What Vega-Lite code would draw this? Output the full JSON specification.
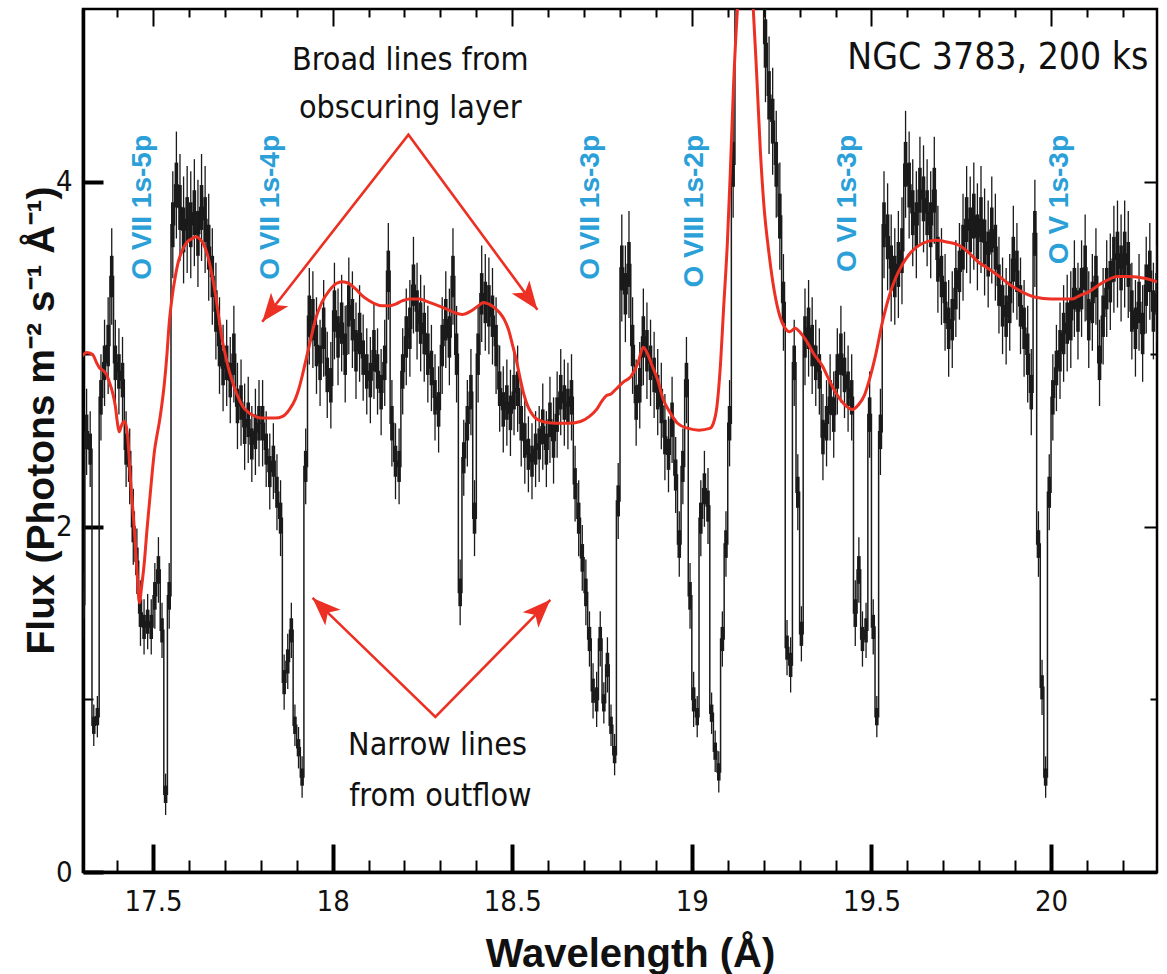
{
"$schema":"https://vega.github.io/schema/vega-lite/v6.json",
"width":1074,"height":863,
"autosize":{"type":"none"},
"padding":{"left":83,"top":9,"right":10,"bottom":102},
"background":"white",
"config":{"view":{"stroke":"#000","strokeWidth":2.5}},
"datasets":{
"spec":[
{"x":17.305,"y":1.55,"e":0.19,"t":0.08},{"x":17.315,"y":2.55,"e":0.25,"t":0.10},{"x":17.325,"y":2.45,"e":0.22,"t":0.09},{"x":17.335,"y":0.85,"e":0.12,"t":0.05},{"x":17.345,"y":0.9,"e":0.12,"t":0.05},{"x":17.355,"y":2.75,"e":0.25,"t":0.10},{"x":17.365,"y":2.95,"e":0.25,"t":0.10},{"x":17.375,"y":3.05,"e":0.28,"t":0.12},{"x":17.385,"y":3.45,"e":0.28,"t":0.12},{"x":17.395,"y":2.95,"e":0.25,"t":0.10},
{"x":17.405,"y":2.9,"e":0.25,"t":0.10},{"x":17.415,"y":2.85,"e":0.25,"t":0.10},{"x":17.425,"y":2.45,"e":0.22,"t":0.09},{"x":17.435,"y":2.35,"e":0.22,"t":0.09},{"x":17.445,"y":2.0,"e":0.22,"t":0.09},{"x":17.455,"y":1.8,"e":0.19,"t":0.08},{"x":17.465,"y":1.5,"e":0.19,"t":0.08},{"x":17.475,"y":1.42,"e":0.16,"t":0.07},{"x":17.485,"y":1.45,"e":0.16,"t":0.07},{"x":17.495,"y":1.42,"e":0.16,"t":0.07},
{"x":17.505,"y":1.6,"e":0.19,"t":0.08},{"x":17.515,"y":1.75,"e":0.19,"t":0.08},{"x":17.525,"y":1.4,"e":0.16,"t":0.07},{"x":17.535,"y":0.45,"e":0.12,"t":0.05},{"x":17.545,"y":1.6,"e":0.19,"t":0.08},{"x":17.555,"y":3.75,"e":0.31,"t":0.13},{"x":17.565,"y":3.98,"e":0.31,"t":0.13},{"x":17.575,"y":3.85,"e":0.31,"t":0.13},{"x":17.585,"y":3.72,"e":0.31,"t":0.13},{"x":17.595,"y":3.78,"e":0.31,"t":0.13},
{"x":17.605,"y":3.75,"e":0.31,"t":0.13},{"x":17.615,"y":3.82,"e":0.31,"t":0.13},{"x":17.625,"y":3.7,"e":0.31,"t":0.13},{"x":17.635,"y":3.85,"e":0.31,"t":0.13},{"x":17.645,"y":3.78,"e":0.31,"t":0.13},{"x":17.655,"y":3.62,"e":0.31,"t":0.13},{"x":17.665,"y":3.45,"e":0.28,"t":0.12},{"x":17.675,"y":3.25,"e":0.28,"t":0.12},{"x":17.685,"y":3.05,"e":0.28,"t":0.12},{"x":17.695,"y":2.92,"e":0.25,"t":0.10},
{"x":17.705,"y":2.95,"e":0.25,"t":0.10},{"x":17.715,"y":2.85,"e":0.25,"t":0.10},{"x":17.725,"y":3.0,"e":0.28,"t":0.12},{"x":17.735,"y":2.7,"e":0.25,"t":0.10},{"x":17.745,"y":2.72,"e":0.25,"t":0.10},{"x":17.755,"y":2.58,"e":0.25,"t":0.10},{"x":17.765,"y":2.62,"e":0.25,"t":0.10},{"x":17.775,"y":2.48,"e":0.22,"t":0.09},{"x":17.785,"y":2.55,"e":0.25,"t":0.10},{"x":17.795,"y":2.6,"e":0.25,"t":0.10},
{"x":17.805,"y":2.6,"e":0.25,"t":0.10},{"x":17.815,"y":2.45,"e":0.22,"t":0.09},{"x":17.825,"y":2.32,"e":0.22,"t":0.09},{"x":17.835,"y":2.38,"e":0.22,"t":0.09},{"x":17.845,"y":2.2,"e":0.22,"t":0.09},{"x":17.855,"y":2.05,"e":0.22,"t":0.09},{"x":17.865,"y":1.1,"e":0.16,"t":0.07},{"x":17.875,"y":1.22,"e":0.16,"t":0.07},{"x":17.885,"y":1.4,"e":0.16,"t":0.07},{"x":17.895,"y":0.85,"e":0.12,"t":0.05},
{"x":17.905,"y":0.72,"e":0.12,"t":0.05},{"x":17.915,"y":0.55,"e":0.12,"t":0.05},{"x":17.925,"y":2.35,"e":0.22,"t":0.09},{"x":17.935,"y":3.22,"e":0.28,"t":0.12},{"x":17.945,"y":3.2,"e":0.28,"t":0.12},{"x":17.955,"y":3.05,"e":0.28,"t":0.12},{"x":17.965,"y":2.95,"e":0.25,"t":0.10},{"x":17.975,"y":3.15,"e":0.28,"t":0.12},{"x":17.985,"y":2.88,"e":0.25,"t":0.10},{"x":17.995,"y":2.82,"e":0.25,"t":0.10},
{"x":18.005,"y":3.25,"e":0.28,"t":0.12},{"x":18.015,"y":3.1,"e":0.28,"t":0.12},{"x":18.025,"y":3.18,"e":0.28,"t":0.12},{"x":18.035,"y":3.0,"e":0.28,"t":0.12},{"x":18.045,"y":3.28,"e":0.28,"t":0.12},{"x":18.055,"y":3.2,"e":0.28,"t":0.12},{"x":18.065,"y":3.02,"e":0.28,"t":0.12},{"x":18.075,"y":3.12,"e":0.28,"t":0.12},{"x":18.085,"y":2.98,"e":0.25,"t":0.10},{"x":18.095,"y":2.9,"e":0.25,"t":0.10},
{"x":18.105,"y":2.85,"e":0.25,"t":0.10},{"x":18.115,"y":3.02,"e":0.28,"t":0.12},{"x":18.125,"y":2.9,"e":0.25,"t":0.10},{"x":18.135,"y":2.78,"e":0.25,"t":0.10},{"x":18.145,"y":2.95,"e":0.25,"t":0.10},{"x":18.155,"y":3.48,"e":0.28,"t":0.12},{"x":18.165,"y":2.6,"e":0.25,"t":0.10},{"x":18.175,"y":2.38,"e":0.22,"t":0.09},{"x":18.185,"y":2.35,"e":0.22,"t":0.09},{"x":18.195,"y":2.9,"e":0.25,"t":0.10},
{"x":18.205,"y":3.1,"e":0.28,"t":0.12},{"x":18.215,"y":3.15,"e":0.28,"t":0.12},{"x":18.225,"y":3.4,"e":0.28,"t":0.12},{"x":18.235,"y":3.25,"e":0.28,"t":0.12},{"x":18.245,"y":3.18,"e":0.28,"t":0.12},{"x":18.255,"y":3.12,"e":0.28,"t":0.12},{"x":18.265,"y":3.0,"e":0.28,"t":0.12},{"x":18.275,"y":2.92,"e":0.25,"t":0.10},{"x":18.285,"y":2.75,"e":0.25,"t":0.10},{"x":18.295,"y":2.68,"e":0.25,"t":0.10},
{"x":18.305,"y":3.05,"e":0.28,"t":0.12},{"x":18.315,"y":3.2,"e":0.28,"t":0.12},{"x":18.325,"y":3.1,"e":0.28,"t":0.12},{"x":18.335,"y":3.45,"e":0.28,"t":0.12},{"x":18.345,"y":3.0,"e":0.28,"t":0.12},{"x":18.355,"y":1.62,"e":0.19,"t":0.08},{"x":18.365,"y":2.4,"e":0.22,"t":0.09},{"x":18.375,"y":2.6,"e":0.25,"t":0.10},{"x":18.385,"y":2.78,"e":0.25,"t":0.10},{"x":18.395,"y":2.05,"e":0.22,"t":0.09},
{"x":18.405,"y":3.0,"e":0.28,"t":0.12},{"x":18.415,"y":3.35,"e":0.28,"t":0.12},{"x":18.425,"y":3.3,"e":0.28,"t":0.12},{"x":18.435,"y":3.28,"e":0.28,"t":0.12},{"x":18.445,"y":3.22,"e":0.28,"t":0.12},{"x":18.455,"y":3.05,"e":0.28,"t":0.12},{"x":18.465,"y":2.8,"e":0.25,"t":0.10},{"x":18.475,"y":2.68,"e":0.25,"t":0.10},{"x":18.485,"y":2.72,"e":0.25,"t":0.10},{"x":18.495,"y":2.66,"e":0.25,"t":0.10},
{"x":18.505,"y":2.78,"e":0.25,"t":0.10},{"x":18.515,"y":2.8,"e":0.25,"t":0.10},{"x":18.525,"y":2.6,"e":0.25,"t":0.10},{"x":18.535,"y":2.5,"e":0.25,"t":0.10},{"x":18.545,"y":2.42,"e":0.22,"t":0.09},{"x":18.555,"y":2.38,"e":0.22,"t":0.09},{"x":18.565,"y":2.45,"e":0.22,"t":0.09},{"x":18.575,"y":2.48,"e":0.22,"t":0.09},{"x":18.585,"y":2.58,"e":0.25,"t":0.10},{"x":18.595,"y":2.45,"e":0.22,"t":0.09},
{"x":18.605,"y":2.62,"e":0.25,"t":0.10},{"x":18.615,"y":2.5,"e":0.25,"t":0.10},{"x":18.625,"y":2.65,"e":0.25,"t":0.10},{"x":18.635,"y":2.78,"e":0.25,"t":0.10},{"x":18.645,"y":2.72,"e":0.25,"t":0.10},{"x":18.655,"y":2.7,"e":0.25,"t":0.10},{"x":18.665,"y":2.75,"e":0.25,"t":0.10},{"x":18.675,"y":2.25,"e":0.22,"t":0.09},{"x":18.685,"y":2.05,"e":0.22,"t":0.09},{"x":18.695,"y":1.82,"e":0.19,"t":0.08},
{"x":18.705,"y":1.62,"e":0.19,"t":0.08},{"x":18.715,"y":1.35,"e":0.16,"t":0.07},{"x":18.725,"y":1.05,"e":0.16,"t":0.07},{"x":18.735,"y":1.0,"e":0.16,"t":0.07},{"x":18.745,"y":1.35,"e":0.16,"t":0.07},{"x":18.755,"y":0.98,"e":0.12,"t":0.05},{"x":18.765,"y":1.2,"e":0.16,"t":0.07},{"x":18.775,"y":0.85,"e":0.12,"t":0.05},{"x":18.785,"y":0.68,"e":0.12,"t":0.05},{"x":18.795,"y":2.15,"e":0.22,"t":0.09},
{"x":18.805,"y":3.5,"e":0.31,"t":0.13},{"x":18.815,"y":3.35,"e":0.28,"t":0.12},{"x":18.825,"y":3.52,"e":0.31,"t":0.13},{"x":18.835,"y":3.05,"e":0.28,"t":0.12},{"x":18.845,"y":2.72,"e":0.25,"t":0.10},{"x":18.855,"y":2.82,"e":0.25,"t":0.10},{"x":18.865,"y":3.1,"e":0.28,"t":0.12},{"x":18.875,"y":3.02,"e":0.28,"t":0.12},{"x":18.885,"y":2.95,"e":0.25,"t":0.10},{"x":18.895,"y":2.88,"e":0.25,"t":0.10},
{"x":18.905,"y":2.78,"e":0.25,"t":0.10},{"x":18.915,"y":2.7,"e":0.25,"t":0.10},{"x":18.925,"y":2.52,"e":0.25,"t":0.10},{"x":18.935,"y":2.42,"e":0.22,"t":0.09},{"x":18.945,"y":2.62,"e":0.25,"t":0.10},{"x":18.955,"y":2.3,"e":0.22,"t":0.09},{"x":18.965,"y":1.9,"e":0.19,"t":0.08},{"x":18.975,"y":2.35,"e":0.22,"t":0.09},{"x":18.985,"y":2.85,"e":0.25,"t":0.10},{"x":18.995,"y":1.6,"e":0.19,"t":0.08},
{"x":19.005,"y":1.0,"e":0.16,"t":0.07},{"x":19.015,"y":0.9,"e":0.12,"t":0.05},{"x":19.025,"y":2.05,"e":0.22,"t":0.09},{"x":19.035,"y":2.22,"e":0.22,"t":0.09},{"x":19.045,"y":2.12,"e":0.22,"t":0.09},{"x":19.055,"y":0.92,"e":0.12,"t":0.05},{"x":19.065,"y":0.7,"e":0.12,"t":0.05},{"x":19.075,"y":0.58,"e":0.12,"t":0.05},{"x":19.085,"y":1.35,"e":0.16,"t":0.07},{"x":19.095,"y":1.9,"e":0.19,"t":0.08},
{"x":19.105,"y":2.6,"e":0.25,"t":0.10},{"x":19.115,"y":4.1,"e":0.31,"t":0.13},{"x":19.125,"y":5.3,"e":0.34,"t":0.14},{"x":19.135,"y":6.2,"e":0.34,"t":0.14},{"x":19.145,"y":6.8,"e":0.34,"t":0.14},{"x":19.155,"y":7.1,"e":0.34,"t":0.14},{"x":19.165,"y":7.0,"e":0.34,"t":0.14},{"x":19.175,"y":6.6,"e":0.34,"t":0.14},{"x":19.185,"y":6.0,"e":0.34,"t":0.14},{"x":19.195,"y":5.5,"e":0.34,"t":0.14},
{"x":19.205,"y":4.8,"e":0.34,"t":0.14},{"x":19.215,"y":4.5,"e":0.34,"t":0.14},{"x":19.225,"y":4.35,"e":0.31,"t":0.13},{"x":19.235,"y":4.1,"e":0.31,"t":0.13},{"x":19.245,"y":3.8,"e":0.31,"t":0.13},{"x":19.255,"y":3.3,"e":0.28,"t":0.12},{"x":19.265,"y":1.3,"e":0.16,"t":0.07},{"x":19.275,"y":1.2,"e":0.16,"t":0.07},{"x":19.285,"y":2.95,"e":0.25,"t":0.10},{"x":19.295,"y":2.2,"e":0.22,"t":0.09},
{"x":19.305,"y":1.38,"e":0.16,"t":0.07},{"x":19.315,"y":3.1,"e":0.28,"t":0.12},{"x":19.325,"y":3.15,"e":0.28,"t":0.12},{"x":19.335,"y":3.05,"e":0.28,"t":0.12},{"x":19.345,"y":2.95,"e":0.25,"t":0.10},{"x":19.355,"y":2.9,"e":0.25,"t":0.10},{"x":19.365,"y":2.52,"e":0.25,"t":0.10},{"x":19.375,"y":2.6,"e":0.25,"t":0.10},{"x":19.385,"y":2.75,"e":0.25,"t":0.10},{"x":19.395,"y":2.65,"e":0.25,"t":0.10},
{"x":19.405,"y":2.9,"e":0.25,"t":0.10},{"x":19.415,"y":3.0,"e":0.28,"t":0.12},{"x":19.425,"y":2.88,"e":0.25,"t":0.10},{"x":19.435,"y":2.8,"e":0.25,"t":0.10},{"x":19.445,"y":2.75,"e":0.25,"t":0.10},{"x":19.455,"y":1.5,"e":0.19,"t":0.08},{"x":19.465,"y":1.75,"e":0.19,"t":0.08},{"x":19.475,"y":1.35,"e":0.16,"t":0.07},{"x":19.485,"y":1.4,"e":0.16,"t":0.07},{"x":19.495,"y":2.65,"e":0.25,"t":0.10},
{"x":19.505,"y":1.42,"e":0.16,"t":0.07},{"x":19.515,"y":0.9,"e":0.12,"t":0.05},{"x":19.525,"y":2.55,"e":0.25,"t":0.10},{"x":19.535,"y":3.75,"e":0.31,"t":0.13},{"x":19.545,"y":3.68,"e":0.31,"t":0.13},{"x":19.555,"y":3.5,"e":0.31,"t":0.13},{"x":19.565,"y":3.45,"e":0.28,"t":0.12},{"x":19.575,"y":3.52,"e":0.31,"t":0.13},{"x":19.585,"y":3.6,"e":0.31,"t":0.13},{"x":19.595,"y":4.1,"e":0.31,"t":0.13},
{"x":19.605,"y":3.98,"e":0.31,"t":0.13},{"x":19.615,"y":3.82,"e":0.31,"t":0.13},{"x":19.625,"y":3.75,"e":0.31,"t":0.13},{"x":19.635,"y":3.95,"e":0.31,"t":0.13},{"x":19.645,"y":3.9,"e":0.31,"t":0.13},{"x":19.655,"y":3.82,"e":0.31,"t":0.13},{"x":19.665,"y":3.75,"e":0.31,"t":0.13},{"x":19.675,"y":3.95,"e":0.31,"t":0.13},{"x":19.685,"y":3.55,"e":0.31,"t":0.13},{"x":19.695,"y":3.45,"e":0.28,"t":0.12},
{"x":19.705,"y":3.3,"e":0.28,"t":0.12},{"x":19.715,"y":3.15,"e":0.28,"t":0.12},{"x":19.725,"y":3.2,"e":0.28,"t":0.12},{"x":19.735,"y":3.38,"e":0.28,"t":0.12},{"x":19.745,"y":3.48,"e":0.28,"t":0.12},{"x":19.755,"y":3.62,"e":0.31,"t":0.13},{"x":19.765,"y":3.78,"e":0.31,"t":0.13},{"x":19.775,"y":3.72,"e":0.31,"t":0.13},{"x":19.785,"y":3.8,"e":0.31,"t":0.13},{"x":19.795,"y":3.68,"e":0.31,"t":0.13},
{"x":19.805,"y":3.78,"e":0.31,"t":0.13},{"x":19.815,"y":3.65,"e":0.31,"t":0.13},{"x":19.825,"y":3.58,"e":0.31,"t":0.13},{"x":19.835,"y":3.72,"e":0.31,"t":0.13},{"x":19.845,"y":3.62,"e":0.31,"t":0.13},{"x":19.855,"y":3.4,"e":0.28,"t":0.12},{"x":19.865,"y":3.28,"e":0.28,"t":0.12},{"x":19.875,"y":3.22,"e":0.28,"t":0.12},{"x":19.885,"y":3.3,"e":0.28,"t":0.12},{"x":19.895,"y":3.55,"e":0.31,"t":0.13},
{"x":19.905,"y":3.48,"e":0.28,"t":0.12},{"x":19.915,"y":3.28,"e":0.28,"t":0.12},{"x":19.925,"y":3.15,"e":0.28,"t":0.12},{"x":19.935,"y":3.0,"e":0.28,"t":0.12},{"x":19.945,"y":2.78,"e":0.25,"t":0.10},{"x":19.955,"y":3.7,"e":0.31,"t":0.13},{"x":19.965,"y":1.9,"e":0.19,"t":0.08},{"x":19.975,"y":1.07,"e":0.16,"t":0.07},{"x":19.985,"y":0.55,"e":0.12,"t":0.05},{"x":19.995,"y":2.2,"e":0.22,"t":0.09},
{"x":20.005,"y":2.75,"e":0.25,"t":0.10},{"x":20.015,"y":2.92,"e":0.25,"t":0.10},{"x":20.025,"y":3.02,"e":0.28,"t":0.12},{"x":20.035,"y":3.12,"e":0.28,"t":0.12},{"x":20.045,"y":3.18,"e":0.28,"t":0.12},{"x":20.055,"y":3.2,"e":0.28,"t":0.12},{"x":20.065,"y":3.38,"e":0.28,"t":0.12},{"x":20.075,"y":3.25,"e":0.28,"t":0.12},{"x":20.085,"y":3.38,"e":0.28,"t":0.12},{"x":20.095,"y":3.5,"e":0.31,"t":0.13},
{"x":20.105,"y":3.2,"e":0.28,"t":0.12},{"x":20.115,"y":3.3,"e":0.28,"t":0.12},{"x":20.125,"y":3.45,"e":0.28,"t":0.12},{"x":20.135,"y":2.95,"e":0.25,"t":0.10},{"x":20.145,"y":3.22,"e":0.28,"t":0.12},{"x":20.155,"y":3.38,"e":0.28,"t":0.12},{"x":20.165,"y":3.42,"e":0.28,"t":0.12},{"x":20.175,"y":3.55,"e":0.31,"t":0.13},{"x":20.185,"y":3.58,"e":0.31,"t":0.13},{"x":20.195,"y":3.5,"e":0.31,"t":0.13},
{"x":20.205,"y":3.58,"e":0.31,"t":0.13},{"x":20.215,"y":3.52,"e":0.31,"t":0.13},{"x":20.225,"y":3.25,"e":0.28,"t":0.12},{"x":20.235,"y":3.15,"e":0.28,"t":0.12},{"x":20.245,"y":3.3,"e":0.28,"t":0.12},{"x":20.255,"y":3.12,"e":0.28,"t":0.12},{"x":20.265,"y":3.4,"e":0.28,"t":0.12},{"x":20.275,"y":3.48,"e":0.28,"t":0.12},{"x":20.285,"y":3.25,"e":0.28,"t":0.12},{"x":20.295,"y":3.35,"e":0.28,"t":0.12}
],
"model":[
{"x":17.303,"y":2.99},{"x":17.315,"y":3.01},{"x":17.331,"y":3.0},{"x":17.343,"y":2.95},{"x":17.351,"y":2.92},{"x":17.358,"y":2.91},{"x":17.364,"y":2.9},{"x":17.371,"y":2.88},{"x":17.378,"y":2.84},{"x":17.387,"y":2.78},{"x":17.395,"y":2.7},{"x":17.401,"y":2.6},{"x":17.406,"y":2.55},{"x":17.411,"y":2.58},{"x":17.415,"y":2.6},{"x":17.421,"y":2.61},{"x":17.428,"y":2.55},{"x":17.433,"y":2.42},{"x":17.437,"y":2.28},{"x":17.443,"y":2.12},{"x":17.448,"y":1.98},{"x":17.452,"y":1.85},{"x":17.456,"y":1.72},{"x":17.462,"y":1.56},{"x":17.468,"y":1.65},{"x":17.476,"y":1.8},{"x":17.483,"y":1.98},{"x":17.49,"y":2.14},{"x":17.497,"y":2.3},{"x":17.504,"y":2.44},{"x":17.511,"y":2.53},{"x":17.517,"y":2.6},{"x":17.524,"y":2.7},{"x":17.531,"y":2.82},{"x":17.538,"y":2.98},{"x":17.545,"y":3.18},{"x":17.553,"y":3.33},{"x":17.562,"y":3.45},{"x":17.571,"y":3.54},{"x":17.581,"y":3.6},{"x":17.595,"y":3.65},{"x":17.609,"y":3.67},{"x":17.62,"y":3.68},{"x":17.629,"y":3.67},{"x":17.64,"y":3.64},{"x":17.651,"y":3.58},{"x":17.658,"y":3.52},{"x":17.665,"y":3.45},{"x":17.675,"y":3.33},{"x":17.684,"y":3.2},{"x":17.692,"y":3.09},{"x":17.701,"y":3.0},{"x":17.711,"y":2.91},{"x":17.721,"y":2.84},{"x":17.735,"y":2.76},{"x":17.749,"y":2.7},{"x":17.767,"y":2.66},{"x":17.785,"y":2.64},{"x":17.8,"y":2.63},{"x":17.818,"y":2.63},{"x":17.84,"y":2.63},{"x":17.861,"y":2.64},{"x":17.88,"y":2.68},{"x":17.896,"y":2.74},{"x":17.906,"y":2.8},{"x":17.916,"y":2.88},{"x":17.926,"y":2.97},{"x":17.935,"y":3.05},{"x":17.952,"y":3.2},{"x":17.97,"y":3.3},{"x":17.991,"y":3.37},{"x":18.01,"y":3.41},{"x":18.027,"y":3.42},{"x":18.045,"y":3.41},{"x":18.063,"y":3.38},{"x":18.082,"y":3.34},{"x":18.102,"y":3.31},{"x":18.12,"y":3.29},{"x":18.138,"y":3.28},{"x":18.156,"y":3.28},{"x":18.175,"y":3.29},{"x":18.195,"y":3.31},{"x":18.214,"y":3.32},{"x":18.241,"y":3.32},{"x":18.269,"y":3.3},{"x":18.295,"y":3.28},{"x":18.319,"y":3.26},{"x":18.34,"y":3.24},{"x":18.361,"y":3.23},{"x":18.385,"y":3.25},{"x":18.405,"y":3.28},{"x":18.42,"y":3.3},{"x":18.435,"y":3.29},{"x":18.45,"y":3.27},{"x":18.465,"y":3.24},{"x":18.478,"y":3.2},{"x":18.49,"y":3.14},{"x":18.5,"y":3.06},{"x":18.512,"y":2.96},{"x":18.522,"y":2.86},{"x":18.532,"y":2.77},{"x":18.545,"y":2.69},{"x":18.56,"y":2.64},{"x":18.584,"y":2.61},{"x":18.62,"y":2.6},{"x":18.66,"y":2.6},{"x":18.69,"y":2.61},{"x":18.715,"y":2.64},{"x":18.735,"y":2.68},{"x":18.75,"y":2.73},{"x":18.762,"y":2.76},{"x":18.775,"y":2.77},{"x":18.79,"y":2.8},{"x":18.81,"y":2.84},{"x":18.83,"y":2.87},{"x":18.85,"y":2.95},{"x":18.865,"y":3.04},{"x":18.875,"y":3.01},{"x":18.89,"y":2.93},{"x":18.905,"y":2.85},{"x":18.92,"y":2.74},{"x":18.94,"y":2.66},{"x":18.96,"y":2.6},{"x":18.99,"y":2.57},{"x":19.02,"y":2.56},{"x":19.05,"y":2.57},{"x":19.06,"y":2.6},{"x":19.07,"y":2.7},{"x":19.08,"y":2.95},{"x":19.088,"y":3.25},{"x":19.099,"y":3.65},{"x":19.107,"y":4.05},{"x":19.116,"y":4.55},{"x":19.127,"y":5.0},{"x":19.137,"y":5.25},{"x":19.149,"y":5.38},{"x":19.16,"y":5.28},{"x":19.171,"y":5.0},{"x":19.181,"y":4.6},{"x":19.191,"y":4.17},{"x":19.2,"y":3.88},{"x":19.215,"y":3.58},{"x":19.23,"y":3.36},{"x":19.245,"y":3.22},{"x":19.26,"y":3.15},{"x":19.272,"y":3.13},{"x":19.288,"y":3.15},{"x":19.3,"y":3.13},{"x":19.321,"y":3.07},{"x":19.34,"y":3.0},{"x":19.364,"y":2.93},{"x":19.38,"y":2.86},{"x":19.4,"y":2.78},{"x":19.42,"y":2.72},{"x":19.447,"y":2.68},{"x":19.465,"y":2.71},{"x":19.48,"y":2.76},{"x":19.494,"y":2.85},{"x":19.51,"y":2.98},{"x":19.531,"y":3.19},{"x":19.55,"y":3.34},{"x":19.567,"y":3.44},{"x":19.586,"y":3.52},{"x":19.61,"y":3.59},{"x":19.64,"y":3.64},{"x":19.678,"y":3.66},{"x":19.71,"y":3.65},{"x":19.745,"y":3.63},{"x":19.77,"y":3.59},{"x":19.8,"y":3.53},{"x":19.823,"y":3.5},{"x":19.85,"y":3.46},{"x":19.881,"y":3.41},{"x":19.92,"y":3.36},{"x":19.957,"y":3.33},{"x":20.0,"y":3.32},{"x":20.03,"y":3.32},{"x":20.059,"y":3.32},{"x":20.08,"y":3.34},{"x":20.104,"y":3.36},{"x":20.14,"y":3.41},{"x":20.187,"y":3.45},{"x":20.22,"y":3.45},{"x":20.26,"y":3.44},{"x":20.295,"y":3.42}
],
"arrows":[
{"g":"up","o":0,"x":17.804,"y":3.188},{"g":"up","o":1,"x":18.211,"y":4.272},{"g":"up","o":2,"x":18.57,"y":3.258},
{"g":"lo","o":0,"x":17.944,"y":1.588},{"g":"lo","o":1,"x":18.286,"y":0.899},{"g":"lo","o":2,"x":18.606,"y":1.577}
],
"heads":[
{"x":17.804,"y":3.188,"a":218},{"x":18.57,"y":3.258,"a":143.6},{"x":17.944,"y":1.588,"a":314},{"x":18.606,"y":1.577,"a":44.5}
],
"lines":[
{"x":17.473,"y":4.27,"label":"O VII 1s-5p"},{"x":17.827,"y":4.27,"label":"O VII 1s-4p"},{"x":18.718,"y":4.27,"label":"O VII 1s-3p"},{"x":19.01,"y":4.27,"label":"O VIII 1s-2p"},{"x":19.436,"y":4.27,"label":"O VI 1s-3p"},{"x":20.026,"y":4.27,"label":"O V 1s-3p"}
],
"notes":[
{"x":18.216,"y":4.649,"label":"Broad lines from"},{"x":18.216,"y":4.371,"label":"obscuring layer"},{"x":18.292,"y":0.678,"label":"Narrow lines"},{"x":18.3,"y":0.383,"label":"from outflow"}
],
"ngc":[{"x":20.271,"y":4.655,"label":"NGC 3783, 200 ks"}]
},
"data":{"name":"spec"},
"encoding":{
"x":{"field":"x","type":"quantitative","scale":{"domain":[17.305,20.295],"nice":false,"zero":false},"axis":null},
"y":{"field":"y","type":"quantitative","scale":{"domain":[0,5],"nice":false,"zero":false},"axis":null}
},
"resolve":{"axis":{"x":"independent","y":"independent"}},
"layer":[
{"mark":{"type":"line","interpolate":"step","color":"#1a1a1a","strokeWidth":1.5,"clip":true},
"encoding":{
"x":{"field":"x","type":"quantitative","scale":{"domain":[17.305,20.295],"nice":false,"zero":false},
"axis":{"orient":"bottom","values":[17.4,17.5,17.6,17.7,17.8,17.9,18,18.1,18.2,18.3,18.4,18.5,18.6,18.7,18.8,18.9,19,19.1,19.2,19.3,19.4,19.5,19.6,19.7,19.8,19.9,20,20.1,20.2],
"tickSize":{"condition":{"test":"abs(datum.value*2-round(datum.value*2))<0.001","value":-28},"value":-12},
"tickWidth":{"condition":{"test":"abs(datum.value*2-round(datum.value*2))<0.001","value":4},"value":2},
"tickColor":"#000","domain":true,"domainColor":"#000","domainWidth":3.5,"grid":false,
"labelExpr":"abs(datum.value*2-round(datum.value*2))<0.001 ? format(datum.value,'~g') : ''",
"labelFont":"DejaVu Sans Condensed, Roboto, sans-serif","labelFontSize":29,"labelColor":"#111","labelPadding":43,"labelOverlap":false,"labelFlush":false,"labelBound":false,
"title":"Wavelength (Å)","titleFont":"Liberation Sans","titleFontWeight":"bold","titleFontSize":40,"titleColor":"#111","titleX":547,"titleY":94,"titleAlign":"center","titleBaseline":"alphabetic","titleAnchor":null}},
"y":{"field":"y","type":"quantitative","scale":{"domain":[0,5],"nice":false,"zero":false},
"axis":{"orient":"left","values":[0,1,2,3,4],
"tickSize":{"condition":{"test":"datum.value % 2 == 0","value":-20},"value":-10},
"tickWidth":{"condition":{"test":"datum.value % 2 == 0","value":4},"value":2},
"tickColor":"#000","domain":true,"domainColor":"#000","domainWidth":3.5,"grid":false,
"labelExpr":"datum.value % 2 == 0 ? format(datum.value,'d') : ''",
"labelFont":"DejaVu Sans Condensed, Roboto, sans-serif","labelFontSize":29,"labelColor":"#111","labelPadding":31,"labelOverlap":false,"labelFlush":false,"labelBound":false,
"title":"Flux (Photons m⁻² s⁻¹ Å⁻¹)","titleFont":"Liberation Sans","titleFontWeight":"bold","titleFontSize":39,"titleColor":"#111","titleAngle":270,"titleX":-30,"titleY":411,"titleAlign":"center","titleBaseline":"alphabetic","titleAnchor":null}}
}},
{"mark":{"type":"errorbar","ticks":false,"thickness":1.3,"color":"#1a1a1a","clip":true},
"encoding":{"yError":{"field":"e"}}},
{"mark":{"type":"errorbar","ticks":false,"thickness":3.6,"color":"#1a1a1a","clip":true},
"encoding":{"yError":{"field":"t"}}},
{"data":{"name":"model"},
"mark":{"type":"line","interpolate":"monotone","color":"#ec3023","strokeWidth":3,"clip":true},
"encoding":{
"x":{"field":"x","type":"quantitative","scale":{"domain":[17.305,20.295],"nice":false,"zero":false},
"axis":{"orient":"top","values":[17.4,17.5,17.6,17.7,17.8,17.9,18,18.1,18.2,18.3,18.4,18.5,18.6,18.7,18.8,18.9,19,19.1,19.2,19.3,19.4,19.5,19.6,19.7,19.8,19.9,20,20.1,20.2],
"tickSize":{"condition":{"test":"abs(datum.value*2-round(datum.value*2))<0.001","value":-17},"value":-8},
"tickWidth":2,"tickColor":"#000","domain":false,"grid":false,"labels":false,"title":null}},
"y":{"field":"y","type":"quantitative","scale":{"domain":[0,5],"nice":false,"zero":false},
"axis":{"orient":"right","values":[1,2,3,4],
"tickSize":{"condition":{"test":"datum.value % 2 == 0","value":-13},"value":-7},
"tickWidth":2,"tickColor":"#000","domain":false,"grid":false,"labels":false,"title":null}}
}},
{"data":{"name":"arrows"},
"mark":{"type":"line","color":"#ec3023","strokeWidth":2.6},
"encoding":{"detail":{"field":"g"},"order":{"field":"o","type":"quantitative"}}},
{"data":{"name":"heads"},
"mark":{"type":"point","shape":"M0,0L0.62,1.6L0,1.2L-0.62,1.6Z","filled":true,"color":"#ec3023","opacity":1,"size":1250,"strokeWidth":0},
"encoding":{"angle":{"field":"a","type":"quantitative","scale":null}}},
{"data":{"name":"lines"},
"mark":{"type":"text","angle":270,"align":"right","baseline":"middle","font":"Liberation Sans","fontWeight":"bold","fontSize":28,"color":"#2a9fd8"},
"encoding":{"text":{"field":"label"}}},
{"data":{"name":"notes"},
"mark":{"type":"text","align":"center","baseline":"alphabetic","font":"DejaVu Sans Condensed, Roboto, sans-serif","fontSize":32,"color":"#111"},
"encoding":{"text":{"field":"label"}}},
{"data":{"name":"ngc"},
"mark":{"type":"text","align":"right","baseline":"alphabetic","font":"DejaVu Sans Condensed, Roboto, sans-serif","fontSize":37,"color":"#111"},
"encoding":{"text":{"field":"label"}}}
]
}
